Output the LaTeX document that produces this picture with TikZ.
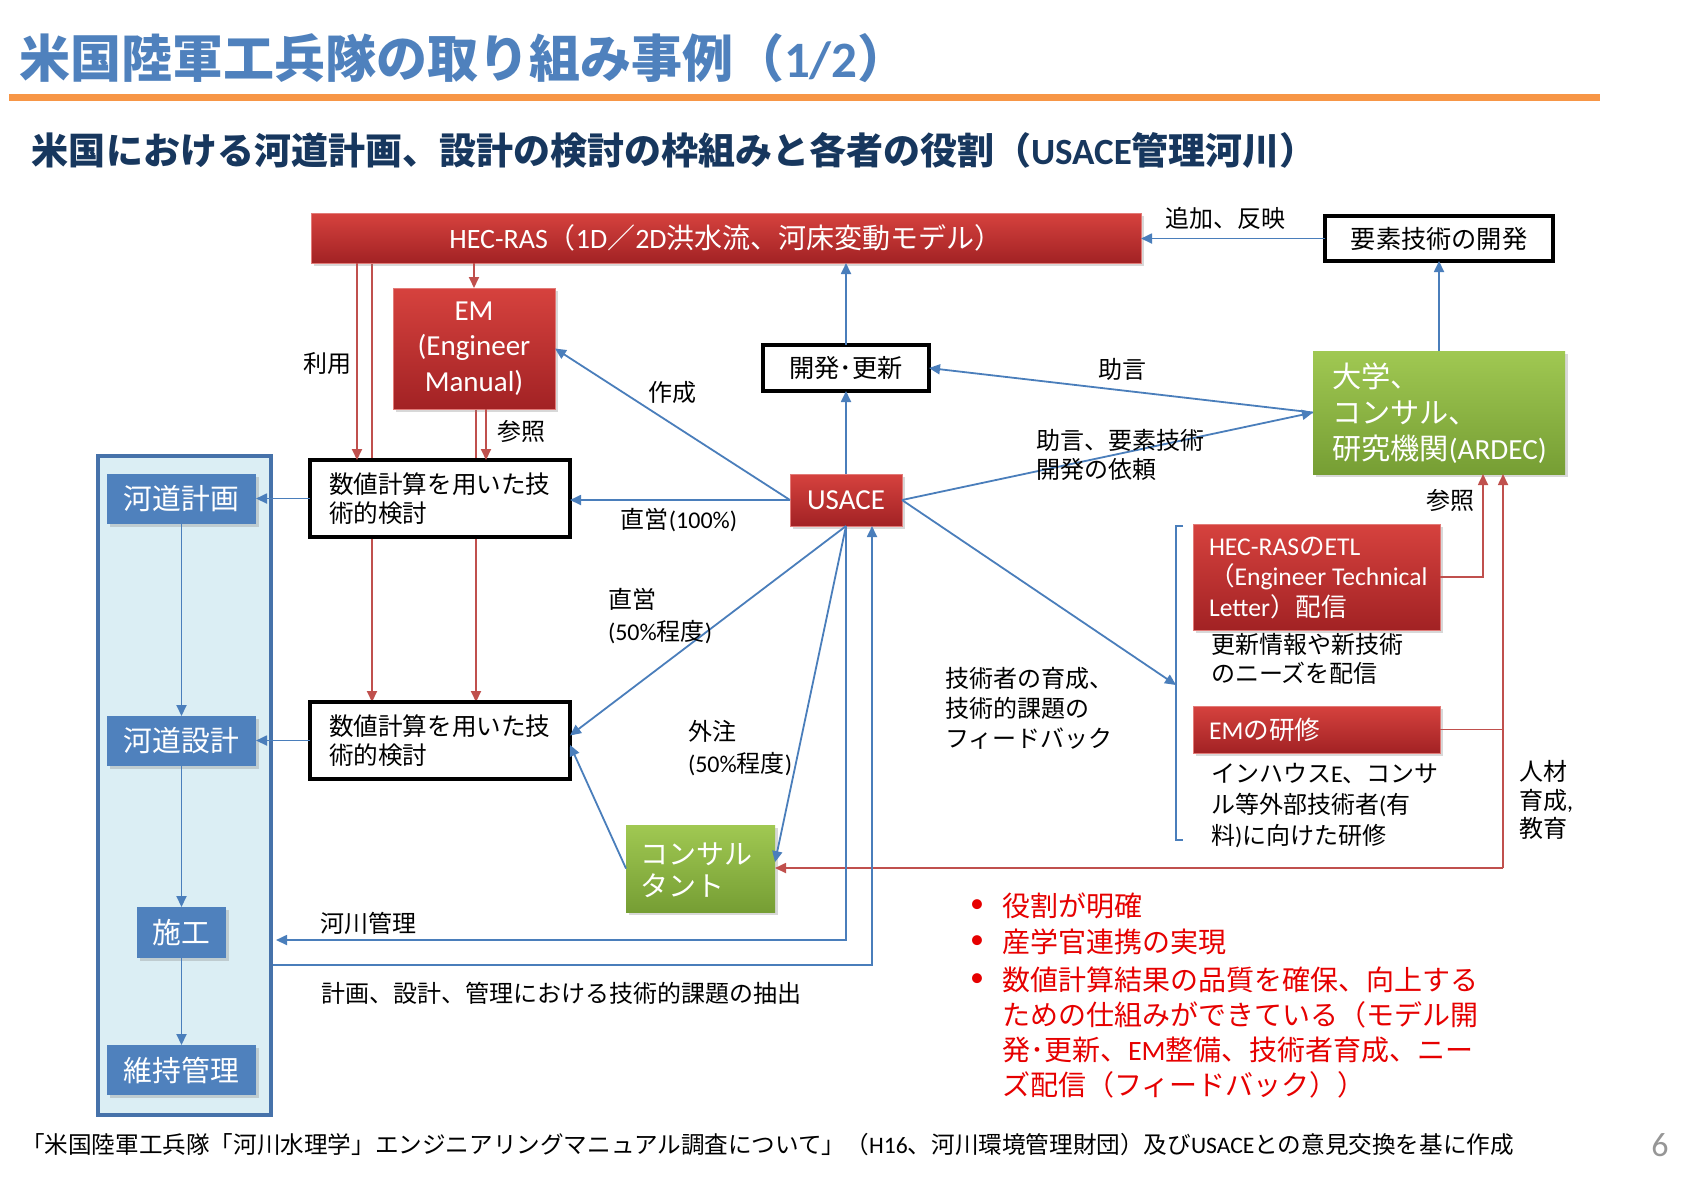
\documentclass[tikz,border=0pt]{standalone}
\usepackage{fontspec}
\setmainfont{Carlito}
\newfontfamily\jp{Noto Sans CJK JP}
\newfontfamily\lt{Carlito}
\XeTeXinterchartokenstate=1
\newXeTeXintercharclass\jpclass
\newcount\jpc
\def\setjprange#1#2{\jpc=#1\relax
  \loop\XeTeXcharclass\jpc=\jpclass\relax
  \ifnum\jpc<#2\advance\jpc by 1\relax\repeat}
\setjprange{"3000}{"30FF}
\setjprange{"4E00}{"9FFF}
\setjprange{"FF00}{"FFEF}
\XeTeXinterchartoks 0 \jpclass = {\jp}
\XeTeXinterchartoks 4095 \jpclass = {\jp}
\XeTeXinterchartoks \jpclass 0 = {\lt}
\XeTeXinterchartoks 4095 0 = {\lt}
\usetikzlibrary{arrows.meta,shadows,backgrounds}
\definecolor{titleblue}{RGB}{79,129,189}
\definecolor{navy}{RGB}{23,55,94}
\definecolor{orangeline}{RGB}{247,150,70}
\definecolor{redtop}{RGB}{214,66,62}
\definecolor{redbot}{RGB}{162,34,36}
\definecolor{greentop}{RGB}{160,200,82}
\definecolor{greenbot}{RGB}{118,158,52}
\definecolor{boxblue}{RGB}{79,129,189}
\definecolor{panelfill}{RGB}{219,238,244}
\definecolor{panelline}{RGB}{70,114,170}
\definecolor{blueline}{RGB}{74,126,187}
\definecolor{redline}{RGB}{192,80,77}
\definecolor{bulletred}{RGB}{230,0,0}
\definecolor{pagegray}{RGB}{150,150,150}
\tikzset{
  sz/.style 2 args={minimum width=#1*0.5pt, minimum height=#2*0.5pt},
  base/.style={inner sep=0pt, outer sep=0pt},
  shad/.style={drop shadow={shadow xshift=1.5pt, shadow yshift=-1.5pt, opacity=0.3}},
  redbox/.style={base, shad, top color=redtop, bottom color=redbot, draw=redtop!70!white, line width=0.4pt, text=white},
  greenbox/.style={base, shad, top color=greentop, bottom color=greenbot, text=white},
  bluebox/.style={base, shad, fill=boxblue, text=white, font=\fontsize{14.4}{17}\selectfont},
  wbox/.style={base, fill=white, draw=black, line width=1.8pt},
  lbl/.style={base, font=\fontsize{12}{15}\selectfont},
  wtxt/.style={base, text=white, align=left, anchor=west},
  bl/.style={draw=blueline, line width=0.9pt, -{Triangle[length=5.5pt,width=5pt]}},
  rl/.style={draw=redline, line width=0.9pt, -{Triangle[length=5.5pt,width=5pt]}},
}
\begin{document}
\begin{tikzpicture}[x=0.5pt,y=-0.5pt]
\useasboundingbox (0,0) rectangle (1684,1191);
\begin{pgfonlayer}{background}
\fill[white] (0,0) rectangle (1684,1191);
\end{pgfonlayer}

% title
\node[base, anchor=west, text=titleblue, font=\bfseries\fontsize{25.5}{30}\selectfont] (title) at (19,58) {米国陸軍工兵隊の取り組み事例（1/2）};
\draw[orangeline, line width=3.5pt] (9,97.5) -- (1600,97.5);
\node[base, anchor=west, text=navy, font=\bfseries\fontsize{18.5}{22}\selectfont] (sub) at (32,150) {米国における河道計画、設計の検討の枠組みと各者の役割（USACE管理河川）};

% main nodes
\node[redbox, sz={830}{50}, font=\fontsize{14}{17}\selectfont] (hec) at (726,238) {HEC-RAS（1D／2D洪水流、河床変動モデル）};
\node[wbox, sz={228}{45}, font=\fontsize{12.6}{15}\selectfont] (yoso) at (1439,238.5) {要素技術の開発};
\node[redbox, sz={162}{121}, align=center, font=\fontsize{14.5}{17.7}\selectfont] (em) at (474,348.5) {EM\\(Engineer\\Manual)};
\node[wbox, sz={166}{46}, font=\fontsize{12.6}{15}\selectfont] (kaihatsu) at (846,368) {開発･更新};
\node[greenbox, sz={252}{123}] (daigaku) at (1439,412.5) {};
\node[wtxt, font=\fontsize{14.6}{18}\selectfont] (daigakut) at (1332,413) {大学、\\コンサル、\\研究機関(ARDEC)};
\node[redbox, sz={112}{52}, font=\fontsize{14.5}{17}\selectfont] (usace) at (846,500) {USACE};
\node[wbox, sz={260}{77}] (box1) at (440,498.5) {};
\node[base, anchor=west, align=left, font=\fontsize{12.3}{14.5}\selectfont] (box1t) at (329,499) {数値計算を用いた技\\術的検討};
\node[wbox, sz={260}{77}] (box2) at (440,740.5) {};
\node[base, anchor=west, align=left, font=\fontsize{12.3}{14.5}\selectfont] (box2t) at (329,741) {数値計算を用いた技\\術的検討};

% left panel
\node[base, sz={173}{659}, fill=panelfill, draw=panelline, line width=1.6pt] (panel) at (184.5,785.5) {};
\node[bluebox, sz={149}{50}] (keikaku) at (181.5,499) {河道計画};
\node[bluebox, sz={149}{50}] (sekkei) at (181.5,741) {河道設計};
\node[bluebox, sz={89}{51}] (sekou) at (181.5,932.5) {施工};
\node[bluebox, sz={149}{50}] (iji) at (181.5,1070) {維持管理};

% consultant
\node[greenbox, sz={149}{87}] (consul) at (700.5,868.5) {};
\node[wtxt, font=\fontsize{14}{16}\selectfont] (consult) at (640,870) {コンサル\\タント};

% ETL and EM training
\node[redbox, sz={247}{106}] (etl) at (1316.5,577) {};
\node[wtxt, font=\fontsize{12.8}{15.2}\selectfont] (etlt) at (1209,578) {HEC-RASのETL\\（Engineer Technical\\Letter）配信};
\node[redbox, sz={247}{47}] (emtr) at (1316.5,729.5) {};
\node[wtxt, font=\fontsize{12.8}{15.2}\selectfont] (emtrt) at (1209,729.5) {EMの研修};

% bracket
\coordinate (brt) at (1183,526);
\coordinate (brb) at (1183,840);
\coordinate (brk) at (1176,685);
\draw[blueline, line width=0.8pt] (brt) -- (brt -| brk) -- (brb -| brk) -- (brb);

% red connectors
\begin{pgfonlayer}{background}
\draw[rl] (hec.south -| 372,0) -- (box2.north -| 372,0);
\draw[rl] (em.south -| 476,0) -- (box2.north -| 476,0);
\end{pgfonlayer}
\draw[rl] (hec.south -| em.north) -- (em.north);
\draw[rl] (hec.south -| 357,0) -- (box1.north -| 357,0);
\draw[rl] (em.south -| 486,0) -- (box1.north -| 486,0);
\draw[rl] (etl.east) -| (daigaku.south -| 1483,0);
\coordinate (rc) at (1503,868);
\draw[redline, line width=0.9pt] (emtr.east) -- (emtr.east -| rc);
\draw[rl] (rc) -- (daigaku.south -| rc);
\draw[rl] (rc) -- (consul.east |- rc);

% blue connectors
\draw[bl] (yoso.west) -- (yoso.west -| hec.east);
\draw[bl] (daigaku.north) -- (yoso.south);
\draw[bl] (kaihatsu.north) -- (kaihatsu.north |- hec.south);
\draw[bl] (usace.north) -- (kaihatsu.south);
\draw[bl] (daigaku.west) -- (kaihatsu.east);
\draw[bl] (usace.east) -- (daigaku.west);
\draw[bl] (usace.east) -- (brk);
\draw[bl] (usace.west) -- (em.east);
\draw[bl] (usace.west) -- (usace.west -| box1.east);
\draw[bl] (usace.south) -- ([yshift=2.5pt]box2.east);
\draw[bl] (usace.south) -- ([yshift=3.2pt]consul.east);
\draw[bl] (consul.west) -- ([yshift=-2.2pt]box2.east);
\draw[bl] (box1.west) -- (box1.west -| keikaku.east);
\draw[bl] (box2.west) -- (box2.west -| sekkei.east);
\draw[bl] (keikaku.south) -- (sekkei.north);
\draw[bl] (sekkei.south) -- (sekou.north);
\draw[bl] (sekou.south) -- (iji.north);
\coordinate (kk) at (0,940);
\coordinate (ky) at (0,965);
\draw[bl] (usace.south) |- ([xshift=2.5pt]panel.east |- kk);
\draw[bl] ([xshift=1pt]panel.east |- ky) -| ([xshift=13pt]usace.south);

% labels
\node[lbl] (tsuika) at (1225,218) {追加、反映};
\node[lbl] (riyou) at (327,363) {利用};
\node[lbl] (sansho1) at (521,431) {参照};
\node[lbl] (sakusei) at (672,392) {作成};
\node[lbl] (jogen) at (1122,369) {助言};
\node[lbl, anchor=west, align=left, font=\fontsize{12}{14.5}\selectfont] (irai) at (1036,455) {助言、要素技術\\開発の依頼};
\node[lbl] (choku100) at (679,520) {直営(100\%)};
\node[lbl, anchor=west, align=left, font=\fontsize{12}{16}\selectfont] (choku50) at (608,616) {直営\\(50\%程度)};
\node[lbl, anchor=west, align=left, font=\fontsize{12}{16}\selectfont] (gaichu) at (688,748) {外注\\(50\%程度)};
\node[lbl] (sansho2) at (1450,500) {参照};
\node[lbl, anchor=west, align=left, font=\fontsize{12}{14.5}\selectfont] (koushin) at (1211,659) {更新情報や新技術\\のニーズを配信};
\node[lbl, anchor=west, align=left, font=\fontsize{12}{15}\selectfont] (ikusei) at (945,708) {技術者の育成、\\技術的課題の\\フィードバック};
\node[lbl, anchor=west, align=left, font=\fontsize{12}{15.5}\selectfont] (inhouse) at (1211,806) {インハウスE、コンサ\\ル等外部技術者(有\\料)に向けた研修};
\node[lbl, anchor=west, align=left, font=\fontsize{12}{14.3}\selectfont] (jinzai) at (1519,800) {人材\\育成,\\教育};
\node[lbl, anchor=west] (kasen) at (320,923) {河川管理};
\node[lbl, anchor=west] (kadai) at (321,993) {計画、設計、管理における技術的課題の抽出};

% bullets
\node[base, text=bulletred, font=\fontsize{14}{17.5}\selectfont] (bu1) at (977,906) {•};
\node[base, text=bulletred, font=\fontsize{14}{17.5}\selectfont] (bu2) at (977,942) {•};
\node[base, text=bulletred, font=\fontsize{14}{17.5}\selectfont] (bu3) at (977,980) {•};
\node[base, anchor=west, text=bulletred, font=\fontsize{14}{17.5}\selectfont] (bt1) at (1002,906) {役割が明確};
\node[base, anchor=west, text=bulletred, font=\fontsize{14}{17.5}\selectfont] (bt2) at (1002,942) {産学官連携の実現};
\node[base, anchor=west, align=left, text=bulletred, font=\fontsize{14}{17.5}\selectfont] (bt3) at (1002,1032) {数値計算結果の品質を確保、向上する\\ための仕組みができている（モデル開\\発･更新、EM整備、技術者育成、ニー\\ズ配信（フィードバック））};

% footer
\node[base, anchor=west, font=\fontsize{11.8}{14}\selectfont] (foot) at (21,1145) {「米国陸軍工兵隊「河川水理学」エンジニアリングマニュアル調査について」（H16、河川環境管理財団）及びUSACEとの意見交換を基に作成};
\node[base, text=pagegray, font=\fontsize{17}{20}\selectfont] (page) at (1660,1145) {6};
\end{tikzpicture}
\end{document}
